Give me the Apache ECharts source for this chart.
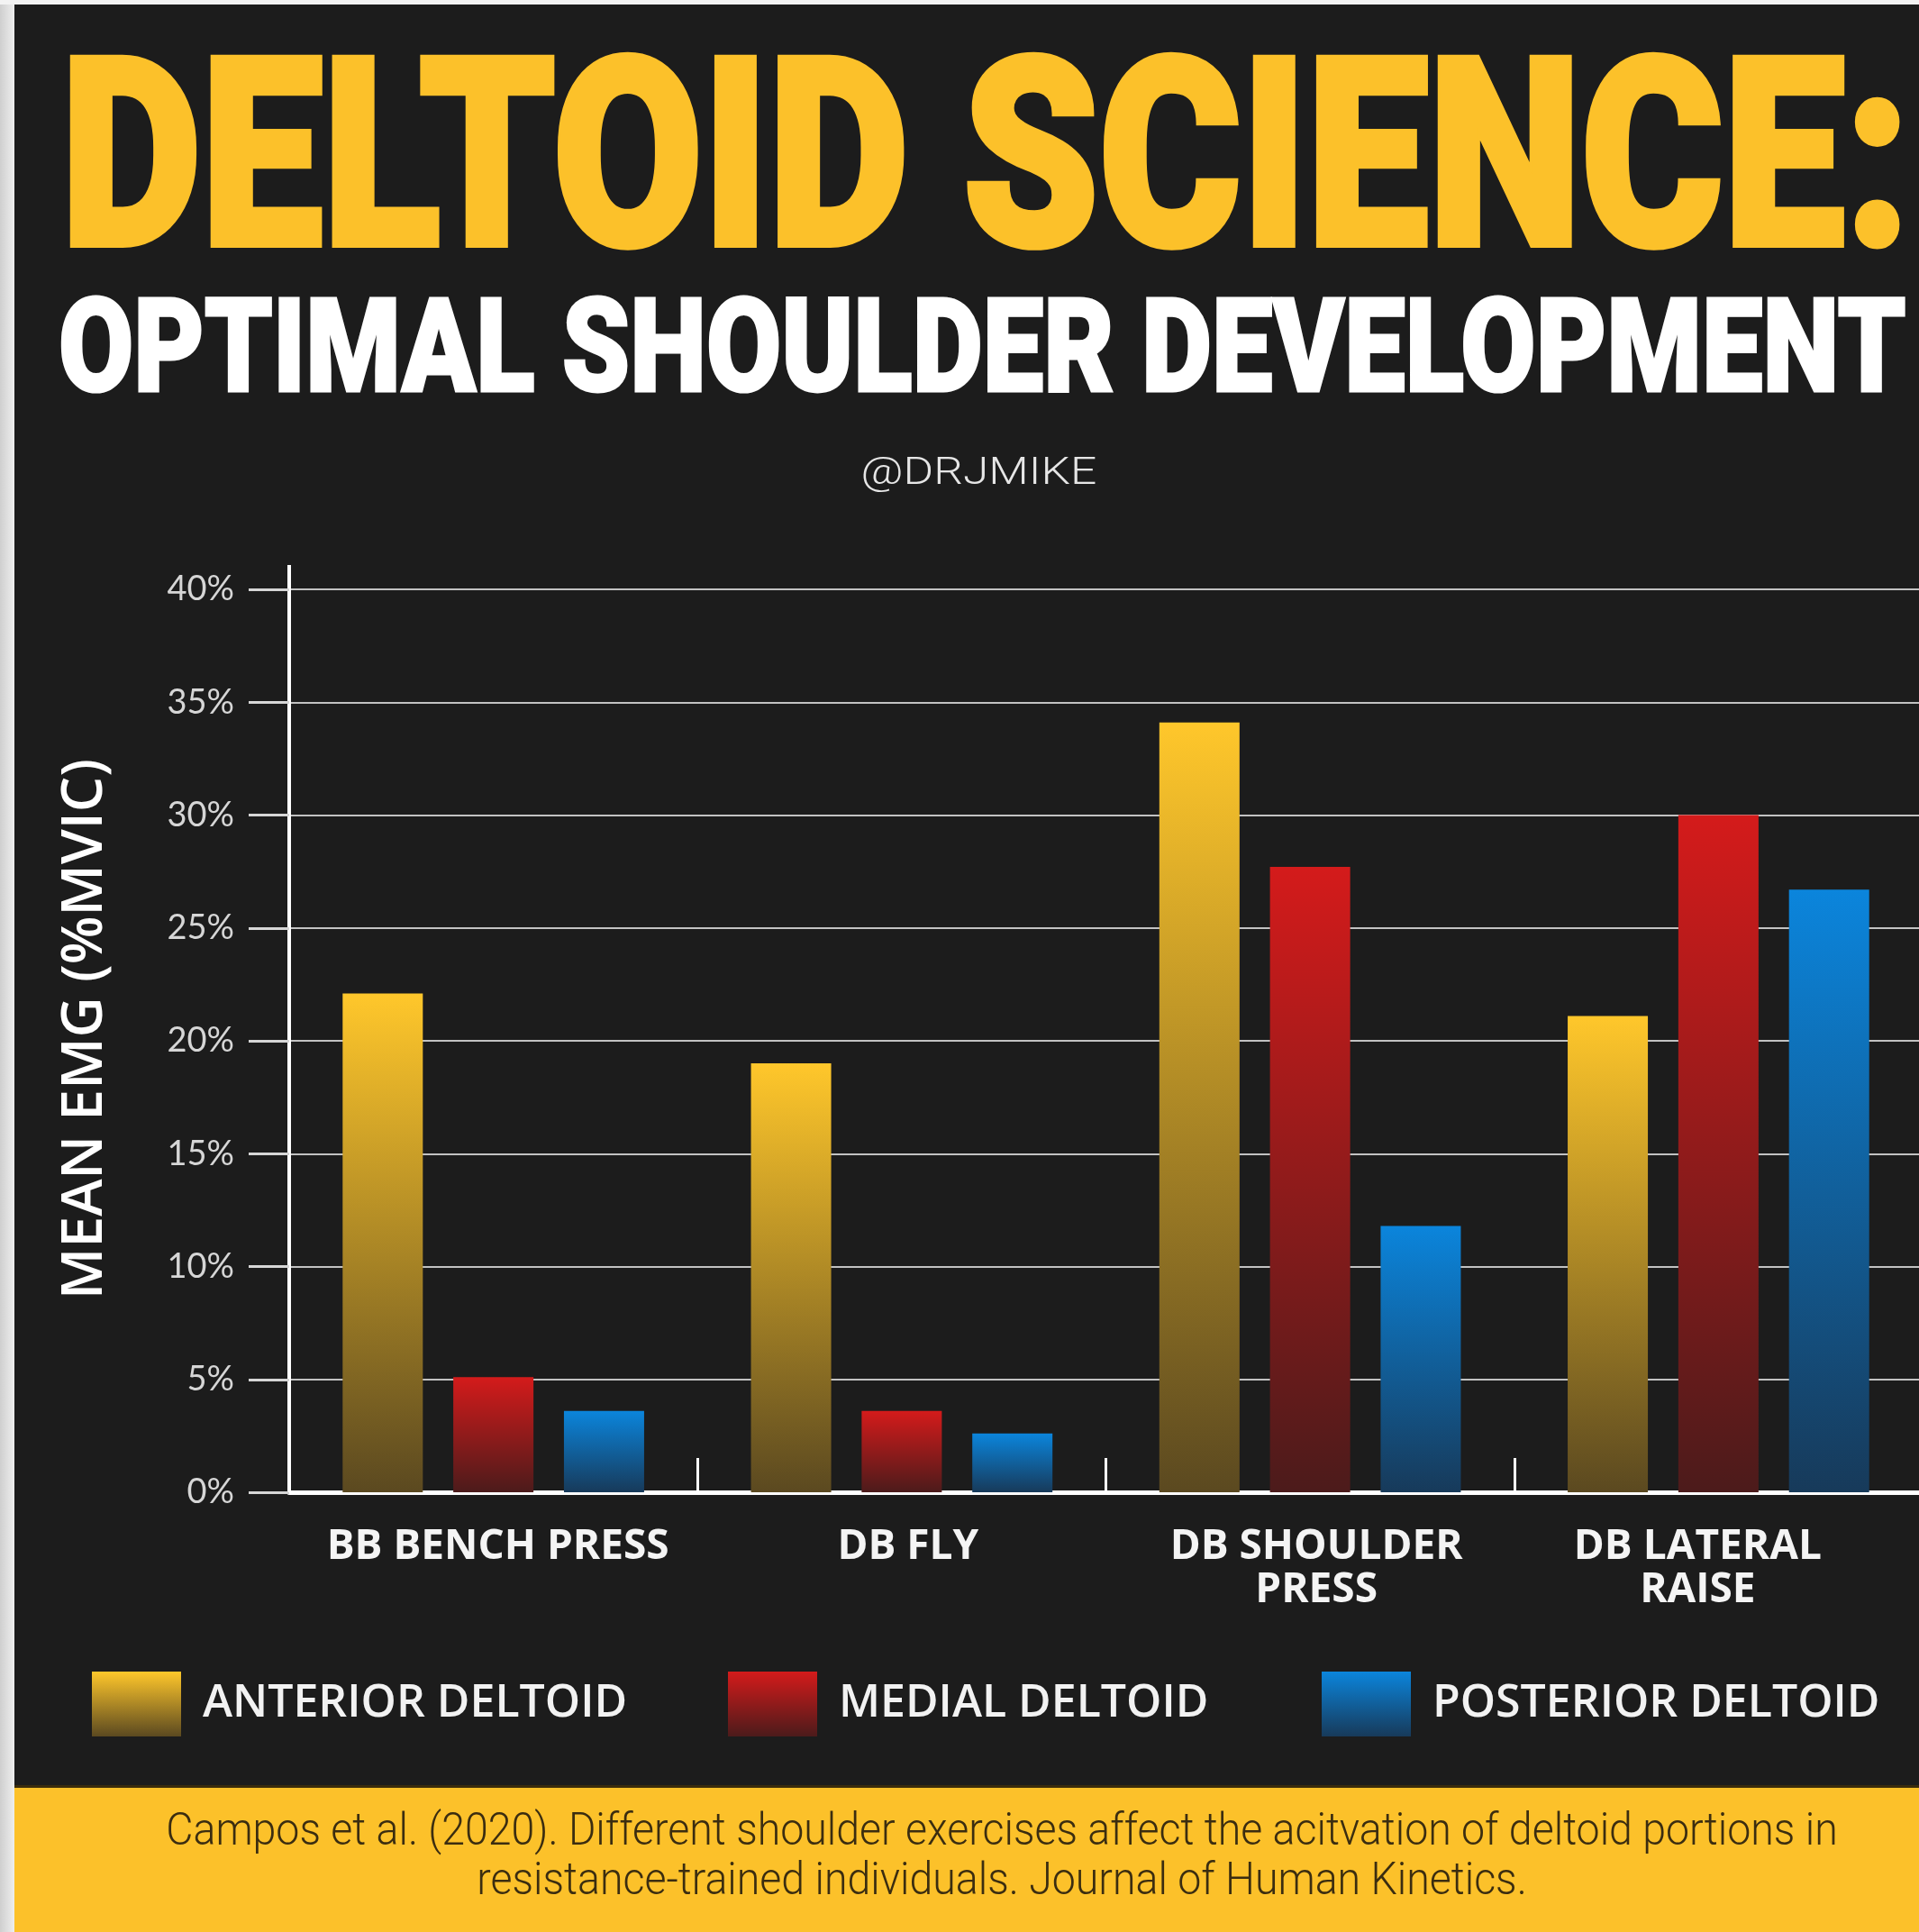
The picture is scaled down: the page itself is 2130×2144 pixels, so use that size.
<!DOCTYPE html>
<html>
<head>
<meta charset="utf-8">
<script src="https://cdn.jsdelivr.net/npm/echarts@6/dist/echarts.min.js"></script>
<style>
html,body{margin:0;padding:0;background:#1c1c1c;}
#c{width:2130px;height:2144px;}
</style>
</head>
<body>
<div id="c"></div>
<script>
// ---------- data ----------
const categories = ['BB BENCH PRESS', 'DB FLY', 'DB SHOULDER\nPRESS', 'DB LATERAL\nRAISE'];
const seriesNames = ['ANTERIOR DELTOID', 'MEDIAL DELTOID', 'POSTERIOR DELTOID'];
const anterior = [22.1, 19.0, 34.1, 21.1];
const medial = [5.1, 3.6, 27.7, 30.0];
const posterior = [3.6, 2.6, 11.8, 26.7];
const yMin = 0, yMax = 40, yStep = 5;
const titleText = 'DELTOID SCIENCE:';
const subtitleText = 'OPTIMAL SHOULDER DEVELOPMENT';
const handleText = '@DRJMIKE';
const yAxisTitle = 'MEAN EMG (%MVIC)';
const footerLines = [
  'Campos et al. (2020). Different shoulder exercises affect the acitvation of deltoid portions in',
  'resistance-trained individuals. Journal of Human Kinetics.'
];

// ---------- styles ----------
const W = 2130, H = 2144;
const GRID_LEFT = 321, GRID_TOP = 654, GRID_BOTTOM_Y = 1656;
const YELLOW = '#FCC12A';
const BG = '#1c1c1c';
const gradStops = [
  ['#FFC72B', '#5B4920'],
  ['#D41B1B', '#4C1B1B'],
  ['#0B85DC', '#173A5A']
];
const legendLefts = [102, 808, 1467];
// horizontal nudges of the category labels (left/right padding)
const labelPads = [[0, 0, 0, 10], [0, 0, 0, 14], [0, 0, 0, 14], [0, 46, 0, 0]];

function grad(top, bottom) {
  return new echarts.graphic.LinearGradient(0, 0, 0, 1, [
    { offset: 0, color: top }, { offset: 1, color: bottom }
  ]);
}

const mctx = document.createElement('canvas').getContext('2d');
function measure(font, text) {
  mctx.font = font; mctx.textBaseline = 'middle'; mctx.textAlign = 'left';
  return mctx.measureText(text);
}
// Fit text so its capitals span capTop..baseline and ink spans inkLeft..inkRight (incl. stroke sw)
function fitText(text, family, weight, inkLeft, inkRight, capTop, baseline, fill, sw) {
  sw = sw || 0;
  const base = 100;
  const m0 = measure(weight + ' ' + base + 'px ' + family, 'H');
  const capH = m0.actualBoundingBoxAscent + m0.actualBoundingBoxDescent;
  const size = base * (baseline - capTop - sw) / capH;
  const font = weight + ' ' + size.toFixed(2) + 'px ' + family;
  const mh = measure(font, 'H');
  const mt = measure(font, text);
  const inkW = mt.actualBoundingBoxLeft + mt.actualBoundingBoxRight;
  const sx = (inkRight - inkLeft) / (inkW + sw);
  const style = { text: text, font: font, fill: fill, align: 'left', verticalAlign: 'middle' };
  if (sw) { style.stroke = fill; style.lineWidth = sw; style.lineJoin = 'round'; }
  return {
    type: 'text',
    x: inkLeft + (mt.actualBoundingBoxLeft + sw / 2) * sx,
    y: baseline - sw / 2 - mh.actualBoundingBoxDescent,
    scaleX: sx,
    style: style,
    silent: true
  };
}

const chart = echarts.init(document.getElementById('c'), null, { renderer: 'canvas', width: W, height: H });

const seriesData = [anterior, medial, posterior];
const option = {
  animation: false,
  backgroundColor: BG,
  textStyle: { fontFamily: '"Open Sans", sans-serif' },
  grid: {
    left: GRID_LEFT, right: -4, top: GRID_TOP, bottom: H - GRID_BOTTOM_Y,
    containLabel: false, outerBoundsMode: 'none'
  },
  xAxis: {
    type: 'category',
    data: categories.map(function (c, i) { return { value: c, textStyle: { padding: labelPads[i] } }; }),
    axisLine: { show: true, lineStyle: { color: '#ffffff', width: 5 } },
    axisTick: { show: true, inside: true, length: 38, lineStyle: { color: '#ffffff', width: 3 } },
    axisLabel: {
      interval: 0, color: '#f4f4f4', fontSize: 46, fontWeight: 'bold',
      fontFamily: '"Open Sans", sans-serif', lineHeight: 48, margin: 37
    },
    splitLine: { show: false }
  },
  yAxis: {
    type: 'value',
    min: yMin, max: yMax, interval: yStep,
    axisLine: { show: true, lineStyle: { color: '#ffffff', width: 4 } },
    axisTick: { show: true, length: 45, lineStyle: { color: '#d6d6d6', width: 3 } },
    axisLabel: {
      formatter: '{value}%', color: '#d6d6d6', fontSize: 38,
      fontFamily: 'Lato, sans-serif', margin: 61, padding: [0, 0, 12, 0]
    },
    splitLine: { show: true, lineStyle: { color: '#c2c2c2', width: 2 } }
  },
  legend: seriesNames.map(function (n, i) {
    return {
      data: [n], left: legendLefts[i], top: 1855, padding: 0,
      itemWidth: 99, itemHeight: 72, icon: 'rect', selectedMode: false,
      textStyle: {
        color: '#f2f2f2', fontSize: 50, fontWeight: 600,
        fontFamily: '"Open Sans", sans-serif', padding: [0, 0, 0, 19]
      }
    };
  }),
  series: seriesNames.map(function (n, i) {
    return {
      name: n, type: 'bar', data: seriesData[i],
      barWidth: 89, barGap: '38%',
      itemStyle: { color: grad(gradStops[i][0], gradStops[i][1]) },
      z: 3
    };
  })
};
chart.setOption(option);

// ---------- decorations (computed after layout) ----------
const y40 = chart.convertToPixel({ yAxisIndex: 0 }, yMax);

const g = [];
g.push({ type: 'rect', shape: { x: 0, y: 0, width: 16, height: H }, silent: true,
  style: { fill: new echarts.graphic.LinearGradient(0, 0, 1, 0, [{ offset: 0, color: '#cfcfcf' }, { offset: 1, color: '#eeeeee' }]) } });
g.push({ type: 'rect', shape: { x: 0, y: 0, width: W, height: 5 }, silent: true, style: { fill: '#f3f3f3' } });
g.push({ type: 'rect', shape: { x: 16, y: 1983, width: W - 16, height: H - 1983 }, silent: true, style: { fill: YELLOW } });
g.push({ type: 'rect', shape: { x: 16, y: 1981, width: W - 16, height: 3 }, silent: true, style: { fill: '#3a2c0c' } });
// y-axis line extension above top gridline
g.push({ type: 'line', shape: { x1: GRID_LEFT, y1: y40 - 27, x2: GRID_LEFT, y2: y40 }, silent: true,
  style: { stroke: '#ffffff', lineWidth: 4 } });

// titles
g.push(fitText(titleText, 'Roboto', '900', 76, 2111, 58, 275, YELLOW, 7));
g.push(fitText(subtitleText, 'Roboto', '900', 67, 2115, 328, 435, '#ffffff', 3));
g.push(fitText(handleText, 'Roboto', '300', 958, 1216, 507, 537, '#e6e6e6', 0));

// y axis title (rotated)
(function () {
  const fam = '"Open Sans"', wt = '600';
  const m0 = measure(wt + ' 100px ' + fam, 'M');
  const capH = m0.actualBoundingBoxAscent + m0.actualBoundingBoxDescent;
  const size = 100 * 46 / capH;
  const font = wt + ' ' + size.toFixed(2) + 'px ' + fam;
  const mt = measure(font, yAxisTitle);
  const mm = measure(font, 'M');
  const sx = 593 / (mt.actualBoundingBoxLeft + mt.actualBoundingBoxRight);
  const off = (mm.actualBoundingBoxDescent - mm.actualBoundingBoxAscent) / 2;
  g.push({ type: 'text', x: 99.5 + off, y: 1142, rotation: Math.PI / 2, scaleX: sx, silent: true,
    style: { text: yAxisTitle, font: font, fill: '#ffffff', align: 'center', verticalAlign: 'middle' } });
})();

// footer citation, two centred lines sharing one horizontal scale
(function () {
  const fam = 'Roboto', wt = '300';
  const m0 = measure(wt + ' 100px ' + fam, 'H');
  const capH = m0.actualBoundingBoxAscent + m0.actualBoundingBoxDescent;
  const size = 100 * 36 / capH;
  const font = wt + ' ' + size.toFixed(2) + 'px ' + fam;
  const mh = measure(font, 'H');
  const m1 = measure(font, footerLines[0]);
  const sx = (2037 - 187) / (m1.actualBoundingBoxLeft + m1.actualBoundingBoxRight);
  const baselines = [2047, 2102];
  footerLines.forEach(function (t, i) {
    g.push({ type: 'text', x: 1112, y: baselines[i] - mh.actualBoundingBoxDescent, scaleX: sx, silent: true,
      style: { text: t, font: font, fill: '#3b2d10', align: 'center', verticalAlign: 'middle' } });
  });
})();

chart.setOption({ graphic: { elements: g } });
</script>
</body>
</html>
